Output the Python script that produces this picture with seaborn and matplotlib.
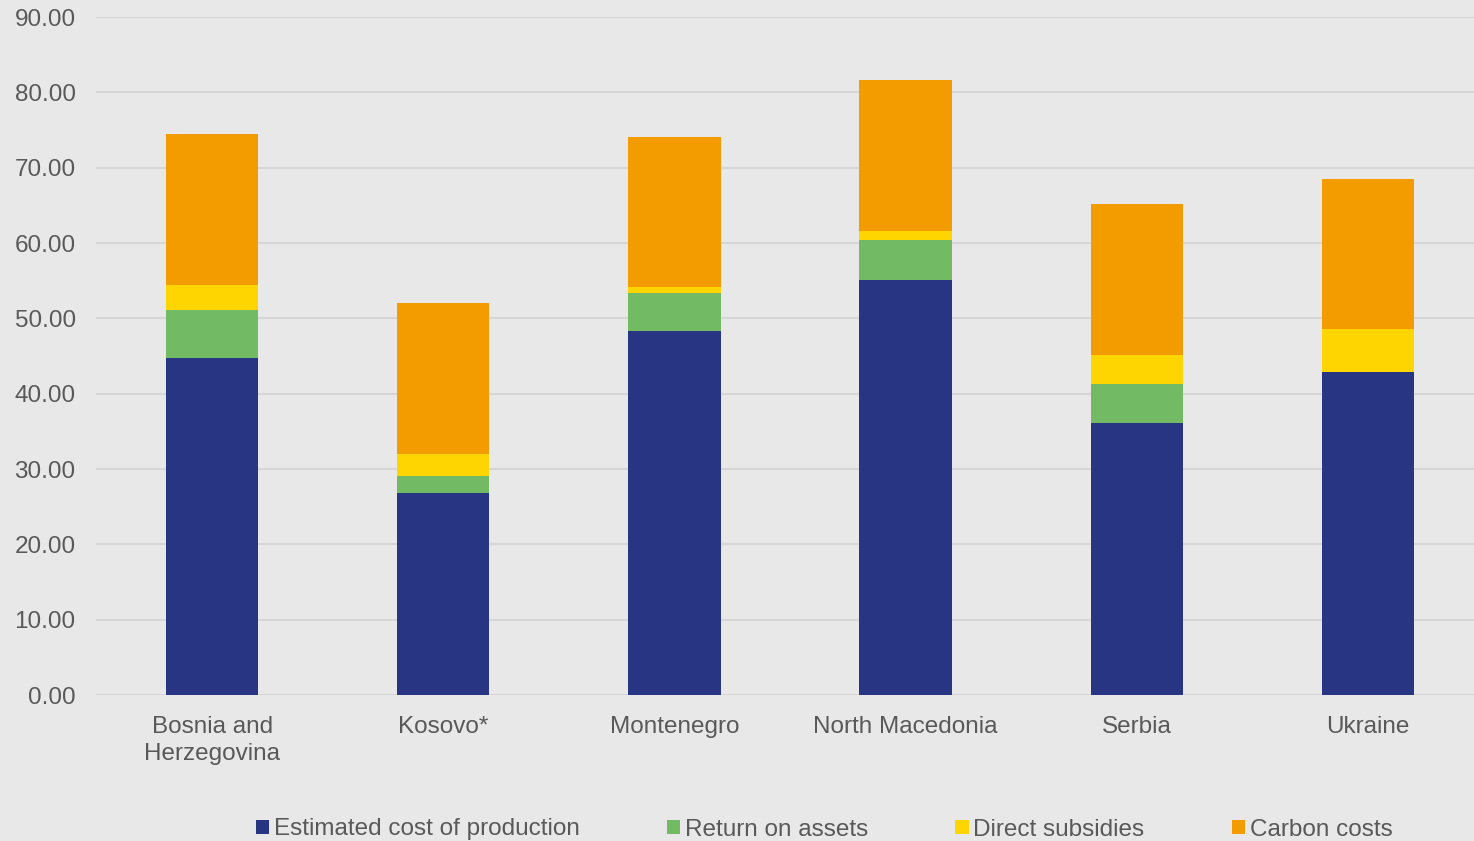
import matplotlib
matplotlib.use("Agg")
import matplotlib.pyplot as plt
import seaborn as sns
import pandas as pd
import numpy as np
from matplotlib.patches import Patch

countries = ["Bosnia and\nHerzegovina", "Kosovo*", "Montenegro", "North Macedonia", "Serbia", "Ukraine"]
series_names = ["Estimated cost of production", "Return on assets", "Direct subsidies", "Carbon costs"]
production = [44.7, 26.8, 48.3, 55.1, 36.1, 42.9]
return_on_assets = [6.4, 2.3, 5.1, 5.3, 5.2, 0.0]
direct_subsidies = [3.3, 2.9, 0.8, 1.2, 3.8, 5.7]
carbon_costs = [20.1, 20.0, 19.9, 20.0, 20.1, 19.9]
colors = ["#283583", "#72BA63", "#FFD500", "#F39C00"]
yticks = [0, 10, 20, 30, 40, 50, 60, 70, 80, 90]

bg = "#E8E8E8"
txt = "#595959"

sns.set_theme(style="white")
plt.rcParams['font.family'] = ['Liberation Sans', 'DejaVu Sans']

fig = plt.figure(figsize=(14.74, 8.41), dpi=100, facecolor=bg)
ax = fig.add_axes([96.5/1474, 146/841, 1387/1474, 678/841])
ax.set_facecolor(bg)

layers = [production, return_on_assets, direct_subsidies, carbon_costs]
cum = np.cumsum(np.array(layers), axis=0)

# draw from top-most cumulative layer to bottom so lower layers overlay
for i in range(3, -1, -1):
    df = pd.DataFrame({"country": countries, "value": cum[i]})
    sns.barplot(data=df, x="country", y="value", color=colors[i], width=0.4,
                saturation=1, ax=ax, zorder=3, linewidth=0)

ax.set_ylim(0, 90)
ax.set_xlim(-0.5, 5.5)
ax.set_yticks(yticks)
ax.set_yticklabels([f"{v:.2f}" for v in yticks])
ax.yaxis.grid(True, color="#D6D6D6", linewidth=1.5, zorder=0)
ax.set_axisbelow(True)
for s in ax.spines.values():
    s.set_visible(False)
ax.set_xlabel("")
ax.set_ylabel("")
ax.tick_params(axis="y", length=0, pad=15, labelsize=17.5, labelcolor=txt)
ax.tick_params(axis="x", length=0, pad=15, labelsize=17.5, labelcolor=txt)
for lab in ax.get_xticklabels():
    lab.set_linespacing(1.3)

handles = [Patch(facecolor=c, edgecolor="none") for c in colors]
fig.legend(handles, series_names, loc="center", bbox_to_anchor=(824/1474, 1 - 829.5/841),
           ncol=4, frameon=False, fontsize=17.5, labelcolor=txt,
           handlelength=0.55, handleheight=0.55, handletextpad=0.2, columnspacing=3.58)

fig.savefig("out.png", dpi=100, facecolor=bg)
